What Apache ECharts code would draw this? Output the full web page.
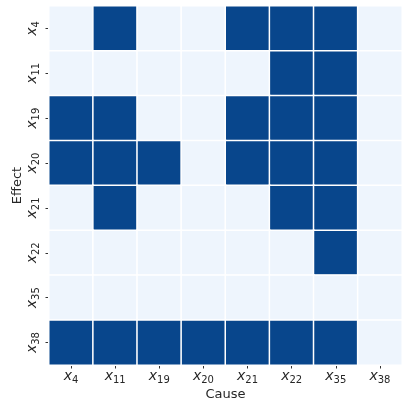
<!DOCTYPE html>
<html>
<head>
<meta charset="utf-8">
<script src="https://cdn.jsdelivr.net/npm/echarts@6/dist/echarts.min.js"></script>
<style>
  html, body { margin: 0; padding: 0; background: #fff; }
  #chart { width: 402px; height: 407px; }
</style>
</head>
<body>
<div id="chart"></div>
<script>
// Variable indices shown on both axes (causes across, effects down)
const causes = ['4', '11', '19', '20', '21', '22', '35', '38'];
const effects = ['4', '11', '19', '20', '21', '22', '35', '38'];

// Adjacency matrix: rows = effect, columns = cause; 1 = causal link present
const adjacency = [
  [0, 1, 0, 0, 1, 1, 1, 0],
  [0, 0, 0, 0, 0, 1, 1, 0],
  [1, 1, 0, 0, 1, 1, 1, 0],
  [1, 1, 1, 0, 1, 1, 1, 0],
  [0, 1, 0, 0, 0, 1, 1, 0],
  [0, 0, 0, 0, 0, 0, 1, 0],
  [0, 0, 0, 0, 0, 0, 0, 0],
  [1, 1, 1, 1, 1, 1, 1, 0]
];

const cells = [];
adjacency.forEach((row, r) => {
  row.forEach((v, c) => cells.push([c, r, v]));
});

const richLabel = {
  x: { fontFamily: 'DejaVu Sans', fontStyle: 'italic', fontSize: 14, color: '#262626' },
  s: { fontFamily: 'DejaVu Sans', fontSize: 10, color: '#262626', padding: [7, 0, 0, 0] }
};
const fmt = v => '{x|x}{s|' + v + '}';

const chart = echarts.init(document.getElementById('chart'), null, { renderer: 'canvas' });
chart.setOption({
  animation: false,
  backgroundColor: '#ffffff',
  grid: { left: 49, top: 6, width: 353, height: 359, containLabel: false, outerBoundsMode: 'none' },
  xAxis: {
    type: 'category',
    data: causes,
    position: 'bottom',
    name: 'Cause',
    nameLocation: 'middle',
    nameGap: 23,
    nameMoveOverlap: false,
    nameTextStyle: { fontFamily: 'DejaVu Sans', fontSize: 13, color: '#262626' },
    axisLine: { show: false },
    axisTick: { show: true, alignWithLabel: true, interval: 0, length: 3.5, lineStyle: { color: '#333', width: 1 } },
    axisLabel: { formatter: fmt, rich: richLabel, margin: 3, interval: 0 },
    splitLine: { show: false }
  },
  yAxis: {
    type: 'category',
    data: effects,
    inverse: true,
    name: 'Effect',
    nameLocation: 'middle',
    nameGap: 25,
    nameMoveOverlap: false,
    nameRotate: 90,
    nameTextStyle: { fontFamily: 'DejaVu Sans', fontSize: 13, color: '#262626' },
    axisLine: { show: false },
    axisTick: { show: true, alignWithLabel: true, interval: 0, length: 3.5, lineStyle: { color: '#333', width: 1 } },
    axisLabel: { formatter: fmt, rich: richLabel, rotate: 90, margin: 8, interval: 0 },
    splitLine: { show: false }
  },
  visualMap: {
    show: false,
    type: 'piecewise',
    dimension: 2,
    pieces: [
      { value: 0, color: '#eef5fd' },
      { value: 1, color: '#08468c' }
    ]
  },
  series: [{
    type: 'heatmap',
    data: cells,
    itemStyle: { borderColor: '#ffffff', borderWidth: 1.5 },
    emphasis: { disabled: true }
  }]
});
</script>
</body>
</html>
